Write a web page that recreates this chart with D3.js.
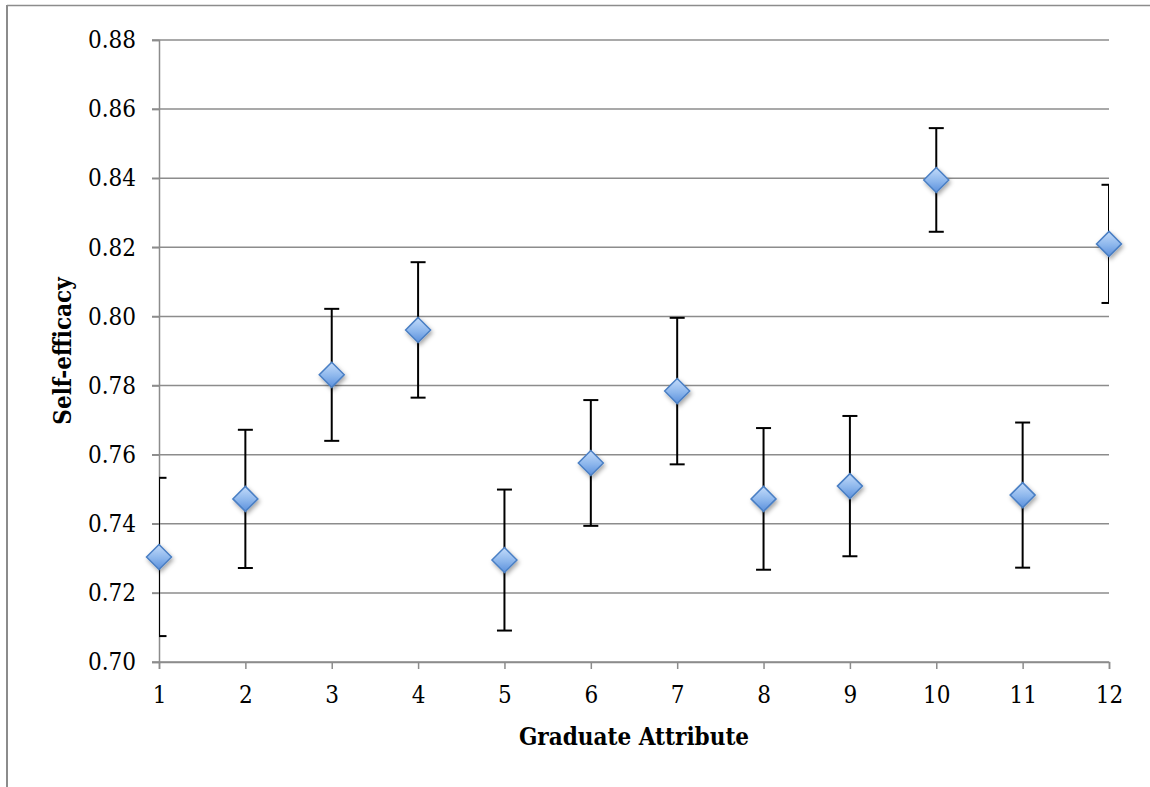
<!DOCTYPE html>
<html>
<head>
<meta charset="utf-8">
<script src="https://cdn.jsdelivr.net/npm/d3@7"></script>
<style>
  html, body { margin: 0; padding: 0; background: #fff; }
  svg text { font-family: "DejaVu Serif Condensed", "DejaVu Serif", "Liberation Serif", serif; }
</style>
</head>
<body>
<div id="chart"></div>
<script>
// Data
const attributes = [1, 2, 3, 4, 5, 6, 7, 8, 9, 10, 11, 12];
const selfEfficacy = [0.7304, 0.7472, 0.7831, 0.7961, 0.7295, 0.7576, 0.7784, 0.7472, 0.7509, 0.8395, 0.7483, 0.8210];
const errors = [0.0229, 0.0200, 0.0191, 0.0196, 0.0204, 0.0182, 0.0212, 0.0205, 0.0203, 0.0150, 0.0210, 0.0171];
const yTicks = [0.70, 0.72, 0.74, 0.76, 0.78, 0.80, 0.82, 0.84, 0.86, 0.88];

const width = 1150, height = 787;
const margin = { top: 40, right: 41, bottom: 125, left: 159 };
const plotW = width - margin.left - margin.right;
const plotH = height - margin.top - margin.bottom;
const fontSize = 24;

const svg = d3.select('#chart')
  .append('svg')
  .attr('width', width)
  .attr('height', height);

// outer frame (top and left edges only visible)
svg.append('line')
  .attr('x1', 7).attr('x2', width).attr('y1', 5.5).attr('y2', 5.5)
  .attr('stroke', '#8c8c8c').attr('stroke-width', 1.5);
svg.append('line')
  .attr('x1', 7).attr('x2', 7).attr('y1', 5).attr('y2', height)
  .attr('stroke', '#8c8c8c').attr('stroke-width', 2);

const defs = svg.append('defs');
const grad = defs.append('linearGradient')
  .attr('id', 'diamondFill')
  .attr('x1', '0').attr('y1', '0').attr('x2', '0').attr('y2', '1');
grad.append('stop').attr('offset', '0%').attr('stop-color', '#c3dbfa');
grad.append('stop').attr('offset', '55%').attr('stop-color', '#8cb6ec');
grad.append('stop').attr('offset', '100%').attr('stop-color', '#5b90dc');

const shadow = defs.append('filter').attr('id', 'shadow')
  .attr('x', '-50%').attr('y', '-50%').attr('width', '200%').attr('height', '200%');
shadow.append('feDropShadow')
  .attr('dx', 1.5).attr('dy', 2.5).attr('stdDeviation', 2)
  .attr('flood-color', '#000').attr('flood-opacity', 0.35);

defs.append('clipPath').attr('id', 'plotClip')
  .append('rect').attr('width', plotW).attr('height', plotH);

const g = svg.append('g')
  .attr('transform', `translate(${margin.left},${margin.top})`);

// X scale
const x = d3.scaleLinear()
  .domain([1, 12])
  .range([0, plotW]);

// Y scale
const y = d3.scaleLinear()
  .domain([0.70, 0.88])
  .range([plotH, 0]);

// gridlines
g.append('g')
  .selectAll('line')
  .data(yTicks)
  .enter()
  .append('line')
  .attr('x1', -7)
  .attr('x2', plotW)
  .attr('y1', d => y(d))
  .attr('y2', d => y(d))
  .attr('stroke', '#8c8c8c')
  .attr('stroke-width', 1.5);

// Y Axis
const yAxis = g.append('g')
  .call(d3.axisLeft(y).tickValues(yTicks).tickFormat(d3.format('.2f')).tickSize(7).tickPadding(16));
yAxis.attr('font-size', fontSize).attr('font-family', null);
yAxis.select('.domain').attr('stroke', '#8c8c8c').attr('stroke-width', 1.5);
yAxis.selectAll('.tick line').attr('stroke', '#8c8c8c').attr('stroke-width', 1.5);
yAxis.selectAll('text').attr('fill', '#000');

// X Axis
const xAxis = g.append('g')
  .attr('transform', `translate(0,${plotH})`)
  .call(d3.axisBottom(x).tickValues(attributes).tickFormat(d3.format('d')).tickSize(7).tickPadding(17));
xAxis.attr('font-size', fontSize).attr('font-family', null);
xAxis.select('.domain').attr('stroke', '#8c8c8c').attr('stroke-width', 1.5);
xAxis.selectAll('.tick line').attr('stroke', '#8c8c8c').attr('stroke-width', 1.5);
xAxis.selectAll('text').attr('fill', '#000');

// Axis titles
svg.append('text')
  .attr('x', margin.left + plotW / 2)
  .attr('y', 745)
  .attr('text-anchor', 'middle')
  .attr('font-size', fontSize)
  .attr('font-weight', 'bold')
  .text('Graduate Attribute');

svg.append('text')
  .attr('transform', `translate(71,${margin.top + plotH / 2}) rotate(-90)`)
  .attr('text-anchor', 'middle')
  .attr('font-size', fontSize)
  .attr('font-weight', 'bold')
  .text('Self-efficacy');

// error bars, clipped to plot area
const points = attributes.map((a, i) => ({ a: a, v: selfEfficacy[i], e: errors[i] }));
const bars = g.append('g').attr('clip-path', 'url(#plotClip)');
const capW = 7.5;

bars.selectAll('line.stem')
  .data(points)
  .enter()
  .append('line')
  .attr('class', 'stem')
  .attr('x1', d => x(d.a)).attr('x2', d => x(d.a))
  .attr('y1', d => y(d.v + d.e)).attr('y2', d => y(d.v - d.e))
  .attr('stroke', '#000').attr('stroke-width', 2);

bars.selectAll('line.capTop')
  .data(points)
  .enter()
  .append('line')
  .attr('class', 'capTop')
  .attr('x1', d => x(d.a) - capW).attr('x2', d => x(d.a) + capW)
  .attr('y1', d => y(d.v + d.e)).attr('y2', d => y(d.v + d.e))
  .attr('stroke', '#000').attr('stroke-width', 2);

bars.selectAll('line.capBot')
  .data(points)
  .enter()
  .append('line')
  .attr('class', 'capBot')
  .attr('x1', d => x(d.a) - capW).attr('x2', d => x(d.a) + capW)
  .attr('y1', d => y(d.v - d.e)).attr('y2', d => y(d.v - d.e))
  .attr('stroke', '#000').attr('stroke-width', 2);

// Diamonds
const r = 12.5;
g.append('g')
  .selectAll('path')
  .data(points)
  .enter()
  .append('path')
  .attr('transform', d => `translate(${x(d.a)},${y(d.v)})`)
  .attr('d', `M0,${-r}L${r},0L0,${r}L${-r},0Z`)
  .attr('fill', 'url(#diamondFill)')
  .attr('stroke', '#4a7fc4')
  .attr('stroke-width', 1.5)
  .attr('filter', 'url(#shadow)');
</script>
</body>
</html>
